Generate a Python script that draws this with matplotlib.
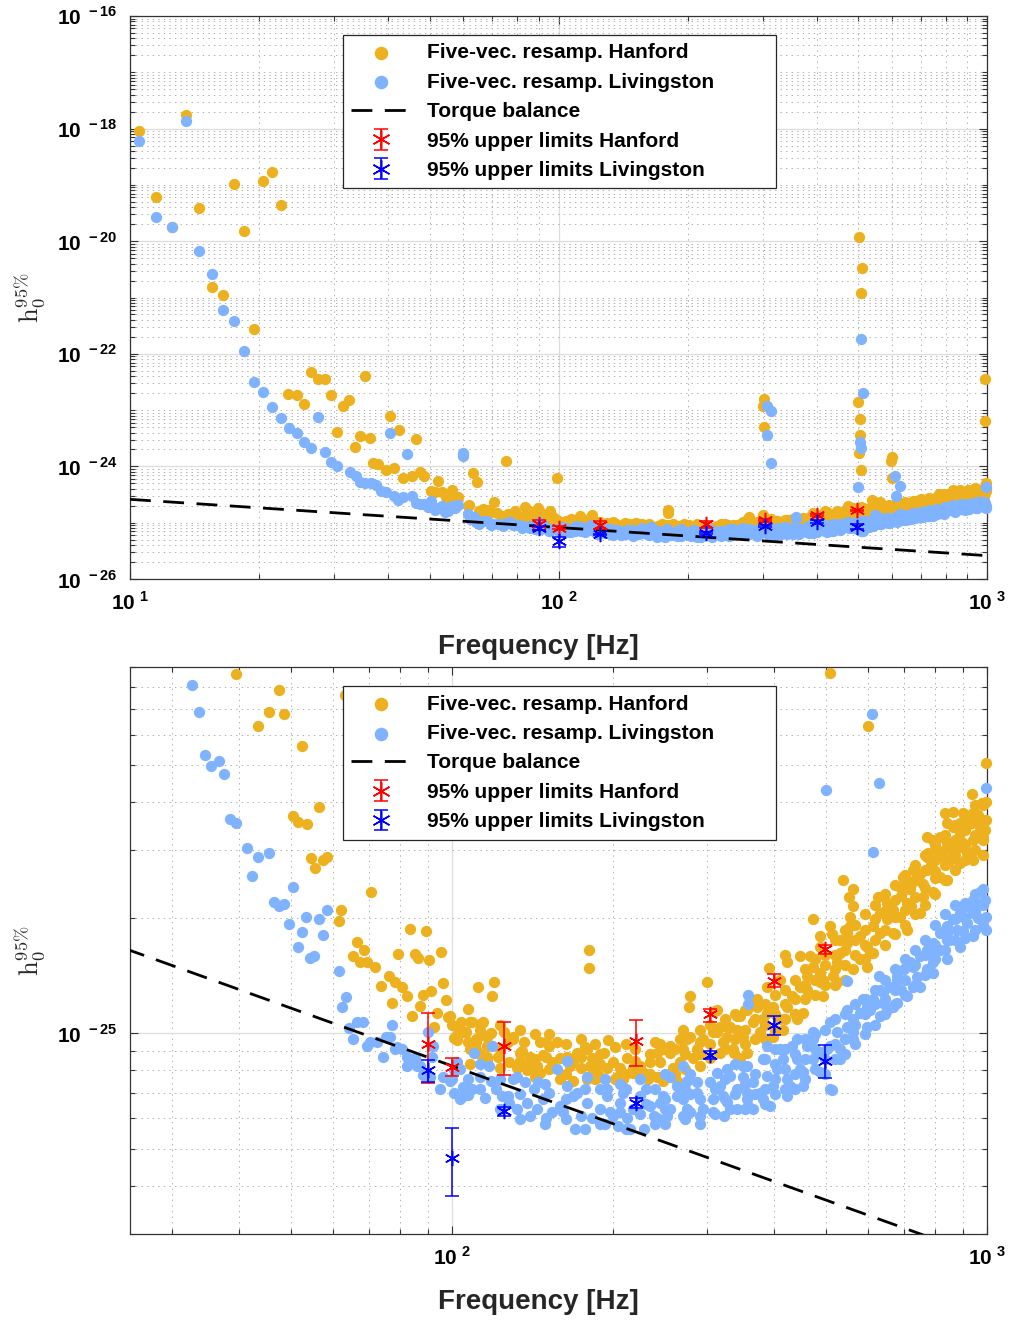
import numpy as np
import matplotlib
matplotlib.use('Agg')
import matplotlib.pyplot as plt
from matplotlib.ticker import FixedLocator, LogLocator, NullFormatter, FuncFormatter

# points: (frequency in Hz, h0 in units of 1e-26)
hanford_band = [
    (39.5, 86.1), (47.5, 78.3), (45.5, 68.6), (48.5, 67.8), (43.3, 63.1), (52.4, 55.9), (56.5, 38.8),
    (50.5, 36.9), (51.6, 35.6), (53.6, 35.1), (54.5, 28.6), (57.4, 28.3), (58.4, 28.8), (55.5, 26.9),
    (61.9, 20.9), (61.4, 19.6), (70.6, 23.3), (83.5, 18.7), (89.4, 18.5), (66.5, 17.3), (68.5, 16.5),
    (65.4, 15.9), (67.3, 15.3), (69.4, 15.3), (71.8, 14.9), (79.2, 16.1), (85.3, 16.1), (86.4, 15.7),
    (95.4, 16.3), (90.6, 15.5), (76.3, 14.1), (78.2, 13.6), (80.6, 13.2), (82.4, 12.5), (73.7, 13.3),
    (77.2, 12.0), (88.2, 12.6), (91.4, 12.9), (96.2, 13.5), (97.4, 12.2), (87.1, 11.8), (84.2, 11.1),
    (92.5, 10.4), (93.7, 11.3), (98.3, 11.0), (100, 10.5), (104, 10.7), (107, 11.6), (112, 13.2),
    (120, 13.6), (119, 12.5), (108, 10.7), (113, 10.6), (103, 10.1), (105, 10.1), (102, 9.6), (107, 9.5),
    (111, 9.5), (114, 9.9), (118, 10.0), (111, 9.1), (116, 9.25), (116, 8.5), (122, 8.7), (125, 10.1),
    (130, 9.8), (127, 9.5), (123, 8.1), (128, 8.4), (136, 9.5), (135, 9.0), (140, 8.7), (132, 8.1),
    (138, 8.2), (146, 9.5), (150, 9.5), (157, 9.5), (148, 8.8), (144, 8.2), (154, 8.4), (146, 7.9),
    (159, 7.6), (164, 8.7), (168, 8.4), (174, 8.1), (179, 9.1), (183, 8.6), (168, 7.5), (179, 7.6),
    (183, 8.1), (196, 9.6), (192, 8.9), (200, 8.4), (189, 7.7), (206, 8.1), (212, 8.6), (209, 7.6),
    (218, 7.9), (225, 8.2), (240, 9.5), (232, 7.6), (245, 8.4), (256, 8.9), (259, 8.1), (267, 8.4),
    (275, 9.65), (270, 9.1), (248, 7.5), (263, 7.5),
    (180, 16.5), (180, 14.8), (300, 13.6), (279, 12.5), (277, 11.7), (310, 11.4), (345, 11.1), (99, 11.1),
    (109, 10.7), (114, 10.7), (102, 9.9), (106, 10.1), (111, 9.65), (116, 9.8), (119, 9.25), (116, 8.7),
    (130, 9.65), (134, 8.9), (132, 8.2), (138, 8.0), (144, 7.9), (152, 9.25), (150, 8.7), (159, 8.6),
    (171, 8.9), (177, 9.2), (166, 8.2), (181, 8.2), (187, 7.9), (181, 7.7), (195, 8.1), (203, 7.7),
    (218, 8.1), (228, 7.9), (234, 8.4), (242, 8.9), (248, 9.1), (256, 9.25), (267, 9.65), (270, 10.2),
    (279, 9.8), (287, 9.1), (242, 7.7), (282, 8.6), (294, 9.65), (313, 10.1), (327, 9.8), (341, 10.2),
    (350, 9.8), (335, 9.1), (317, 8.9), (304, 8.6), (291, 8.2), (321, 9.5), (331, 10.4), (356, 8.9),
    (317, 10.4), (337, 8.9), (345, 8.6), (345, 10.1), (365, 10.7), (376, 10.1), (388, 11.3), (398, 11.7),
    (372, 11.7), (381, 10.9), (410, 10.9), (423, 11.7), (432, 12.5), (447, 13.2), (461, 13.0), (453, 11.3),
    (441, 10.9), (416, 10.2), (398, 9.8), (461, 14.1), (473, 14.9), (487, 14.4), (467, 15.9), (487, 16.8),
    (473, 19.8), (509, 19.0), (487, 17.9), (493, 13.8), (493, 12.5), (515, 14.1), (524, 15.3), (531, 16.2),
    (547, 17.2), (538, 25.1), (562, 23.7), (551, 22.7), (562, 21.4), (554, 20.1), (554, 19.0), (547, 18.3),
    (579, 17.9), (597, 16.8), (579, 15.6), (562, 14.7), (524, 13.6), (597, 14.9), (612, 16.2), (612, 19.0),
    (631, 18.3), (649, 19.8), (666, 21.0), (631, 20.6), (649, 21.9), (688, 20.1), (709, 21.9), (688, 24.1),
    (718, 23.7), (740, 25.1), (759, 22.7), (772, 26.7), (727, 26.7), (697, 25.6), (772, 28.8), (806, 30.1),
    (792, 31.9), (842, 31.4), (864, 34.5), (890, 33.3), (941, 31.9), (917, 29.5), (853, 28.3), (817, 25.6),
    (750, 20.6), (709, 18.6), (666, 18.3), (604, 16.2), (792, 23.3), (842, 25.1), (890, 27.8), (941, 28.3),
    (983, 31.9), (970, 34.5), (772, 32.5), (419, 16.0), (392, 14.8), (703, 25.4), (834, 37.5), (864, 37.7),
    (902, 37.5), (937, 42.0), (941, 37.5), (979, 39.8), (996, 40.0), (996, 36.0), (983, 32.5), (991, 33.9),
    (937, 35.3), (890, 35.3), (842, 35.3), (776, 29.5), (817, 32.5), (853, 30.1), (902, 31.4), (996, 50.6),
    (513, 18.1), (531, 17.5), (487, 13.6), (447, 15.9), (423, 15.3), (410, 13.8), (388, 13.2), (372, 12.3),
    (356, 11.5), (341, 11.1), (327, 10.4), (307, 10.1), (291, 9.5), (313, 11.5), (101, 9.7),
    # filling of the dense part of the band
    (189, 8.82), (189, 8.31), (211, 9.36), (211, 7.82), (234, 8.82), (234, 7.82), (261, 9.09), (261, 7.82),
    (291, 10.2), (291, 8.82), (304, 9.36), (304, 10.5), (324, 9.09), (324, 10.9), (338, 9.65), (338, 11.2),
    (353, 10.2), (353, 9.36), (353, 11.5), (368, 10.9), (368, 9.65), (385, 11.9), (385, 10.5), (385, 9.65),
    (401, 12.6), (401, 11.2), (401, 10.2), (419, 13.0), (419, 11.9), (419, 10.9), (438, 13.8), (438, 12.3),
    (438, 11.2), (457, 14.7), (457, 13.4), (457, 12.3), (477, 15.6), (477, 13.8), (477, 12.6), (498, 16.0),
    (498, 15.1), (498, 13.4), (520, 17.5), (520, 16.0), (520, 14.7), (520, 13.4), (543, 18.6), (543, 16.5),
    (543, 15.1), (543, 13.8), (567, 19.2), (567, 17.5), (567, 16.0), (592, 20.4), (592, 18.6), (592, 17.0),
    (592, 15.6), (618, 21.6), (618, 19.8), (618, 17.5), (645, 23.0), (645, 20.8), (645, 18.6), (645, 17.0),
    (673, 24.4), (673, 22.3), (673, 20.1), (673, 18.1), (703, 25.9), (703, 23.7), (703, 21.0), (703, 19.2),
    (734, 27.5), (734, 25.1), (734, 22.6), (734, 20.4), (766, 29.2), (766, 26.7), (766, 23.9), (766, 21.6),
    (799, 31.0), (799, 28.3), (799, 25.4), (799, 23.0), (835, 32.9), (835, 30.1), (835, 27.5), (835, 25.1),
    (871, 34.9), (871, 31.9), (871, 29.2), (871, 26.7), (910, 37.1), (910, 33.9), (910, 31.0), (910, 28.3),
    (950, 39.3), (950, 36.0), (950, 32.9), (950, 30.1), (983, 39.3), (983, 36.0), (983, 29.2),
    (108, 9.09), (108, 8.31), (113, 8.82), (113, 10.2), (123, 10.5), (123, 9.09), (134, 10.2), (134, 8.46),
    (143, 9.94), (143, 8.56), (143, 7.69), (152, 9.94), (152, 8.06), (163, 9.36), (163, 7.82), (174, 9.65),
    (174, 8.66), (185, 9.36), (185, 7.6), (202, 9.2), (202, 7.6), (220, 9.09), (220, 8.46), (245, 9.36),
    (245, 7.69), (273, 8.82), (273, 8.06),
    (625, 22.6), (655, 21.5), (690, 22.8), (720, 24.5), (750, 26.0), (785, 27.5), (820, 29.0), (855, 31.0),
    (890, 30.5), (925, 35.0), (960, 37.0), (720, 21.5), (760, 24.5), (800, 26.5), (845, 28.0), (885, 32.0),
]

# points above the zoomed window (frequency in Hz, h0)
hanford_outliers = [
    (10.5, 9.1e-19), (13.5, 1.74e-18), (11.5, 6.1e-20), (12.5, 1.8e-20), (14.5, 3.9e-20), (17.5, 1.04e-19),
    (20.4, 1.17e-19), (21.4, 1.69e-19), (22.5, 4.4e-20), (18.5, 1.52e-20), (15.5, 1.54e-21), (16.5, 1.1e-21),
    (19.5, 2.75e-22), (23.4, 1.93e-23), (24.5, 1.85e-23), (25.5, 1.28e-23), (26.4, 4.75e-23), (27.5, 3.56e-23),
    (28.5, 3.56e-23), (29.4, 1.85e-23), (31.4, 1.18e-23), (32.4, 1.51e-23), (35.3, 4.0e-23), (30.4, 4.1e-24),
    (33.5, 2.2e-24), (34.4, 3.5e-24), (36.3, 3.2e-24), (40.4, 7.9e-24), (42.4, 4.4e-24), (46.5, 3.07e-24),
    (36.9, 1.15e-24), (37.9, 1.1e-24), (41.3, 9.4e-25), (59.8, 1.6e-24), (63.1, 7.6e-25), (64.6, 5.3e-25),
    (75.4, 1.25e-24), (99.2, 6.2e-25), (302, 1.57e-23), (300, 1.18e-23), (302, 5.0e-24), (502, 1.19e-20),
    (511, 3.3e-21), (509, 1.2e-21), (500, 1.39e-23), (505, 6.9e-24), (505, 3.6e-24), (503, 1.73e-24),
    (509, 8.7e-25), (600, 1.47e-24), (598, 1.25e-24), (600, 6.3e-25), (990, 3.6e-23), (988, 6.4e-24),
]

livingston_band = [
    (32.6, 80.9), (33.6, 68.6), (34.5, 53.0), (35.4, 49.7), (36.6, 51.2), (37.5, 47.4), (38.5, 36.2),
    (39.5, 35.3), (41.4, 30.4), (43.3, 28.8), (45.5, 29.5), (42.3, 25.7), (50.5, 24.0), (46.5, 22.0),
    (47.5, 21.4), (48.5, 21.7), (53.4, 20.1), (56.5, 19.8), (58.4, 20.9), (49.6, 19.3), (52.4, 18.4),
    (57.4, 18.0), (51.6, 16.8), (54.3, 15.7), (55.2, 15.9), (61.4, 14.5), (63.4, 12.4), (62.2, 11.7),
    (66.5, 10.7), (68.2, 10.7), (64.2, 10.3), (65.4, 9.65), (77.2, 10.5), (75.3, 9.8), (76.6, 9.8),
    (70.3, 9.5), (72.4, 9.5), (69.4, 9.25), (74.4, 8.7), (78.9, 9.2), (80.6, 9.1), (82.4, 8.7), (84.2, 8.5),
    (86.0, 8.2), (90.2, 10.1), (92.1, 9.25), (88.2, 7.8), (91.0, 7.7), (95.0, 7.15), (99.1, 7.5), (101, 7.0),
    (96.2, 7.7), (102, 8.4), (105, 7.25), (107, 6.9),
    (78.2, 9.1), (85.3, 8.6), (82.4, 8.2), (87.1, 8.2), (91.8, 8.7), (101, 8.0), (107, 7.6), (109, 7.15),
    (105, 6.86), (110, 8.9), (113, 7.7), (115, 6.8), (118, 7.5), (121, 7.15), (124, 6.86), (130, 7.6),
    (119, 9.25), (117, 8.2), (128, 6.6), (132, 6.35), (138, 6.6), (142, 7.15), (144, 6.35), (140, 6.1),
    (148, 6.74), (154, 6.24), (150, 6.0), (159, 6.47), (164, 8.46), (157, 8.06), (168, 6.86), (174, 6.1),
    (179, 6.6), (170, 5.63), (183, 6.0), (189, 6.35), (195, 6.86), (200, 6.1), (179, 7.7), (206, 6.6),
    (212, 6.0), (218, 6.35), (225, 6.86), (228, 5.63), (238, 6.1), (245, 6.6), (256, 6.35), (263, 6.86),
    (256, 7.7), (270, 8.2), (275, 7.5), (270, 6.1), (204, 5.73), (215, 5.63),
    (100, 7.6), (132, 7.7), (137, 7.46), (145, 7.46), (127, 6.86), (152, 7.0), (164, 7.28), (171, 7.0),
    (161, 6.24), (195, 7.15), (197, 6.24), (209, 7.0), (234, 6.47), (242, 6.0), (248, 6.86), (263, 7.28),
    (270, 6.74), (279, 6.24), (287, 7.0), (294, 6.35), (304, 7.46), (313, 7.9), (321, 6.86), (331, 6.35),
    (341, 7.15), (350, 7.7), (327, 8.06), (358, 6.47), (350, 8.2), (252, 6.1), (358, 12.6), (358, 11.9),
    (317, 7.28), (327, 6.62), (341, 6.35), (356, 7.0), (365, 7.46), (388, 7.73), (381, 6.74), (405, 8.06),
    (416, 8.56), (428, 7.28), (441, 8.56), (461, 9.25), (473, 9.65), (453, 7.92), (487, 8.93), (509, 9.25),
    (524, 10.1), (547, 10.4), (562, 10.9), (579, 11.3), (531, 9.1), (509, 7.15), (597, 11.7), (612, 12.3),
    (639, 12.8), (659, 13.2), (679, 14.1), (700, 14.7), (718, 15.3), (750, 15.9), (772, 16.5), (792, 17.2),
    (817, 18.3), (842, 19.0), (864, 19.8), (890, 20.6), (917, 21.4), (941, 22.3), (970, 23.3), (983, 19.8),
    (995, 18.6), (941, 17.9), (890, 16.8), (842, 15.6), (792, 14.4), (750, 13.2), (709, 12.5), (666, 11.7),
    (631, 11.1), (597, 10.4), (562, 9.65), (531, 8.56), (487, 7.92), (453, 7.28), (423, 6.86), (393, 6.47),
    (365, 6.35), (612, 29.7), (628, 14.1), (547, 13.7), (388, 9.25), (401, 9.1), (432, 9.25), (513, 7.1),
    (991, 22.3), (996, 20.1), (941, 20.6), (917, 19.4), (902, 21.4), (879, 18.6), (842, 17.5), (817, 16.5),
    (792, 15.3), (772, 14.7), (727, 13.2), (679, 12.0), (649, 11.5), (562, 10.1), (502, 9.1), (473, 8.56),
    (447, 8.06), (423, 7.6), (398, 7.28), (376, 7.0), (356, 6.74), (308, 6.24), (291, 6.1), (275, 6.35),
    (322, 6.1), (308, 6.74), (287, 7.46), (331, 7.73), (356, 8.2), (381, 8.56), (410, 9.1), (441, 9.65),
    (473, 10.1), (509, 10.7), (547, 11.5), (587, 12.3), (631, 13.0), (679, 13.8), (727, 14.9), (782, 16.5),
    (842, 18.3), (902, 20.1), (956, 21.9), (996, 43.6), (500, 43.0), (610, 67.8), (628, 45.0),
    # filling of the dense part of the band
    (189, 7.15), (189, 5.8), (206, 7.37), (206, 6.24), (225, 7.6), (225, 6.16), (240, 7.15), (240, 5.8),
    (250, 7.82), (250, 6.74), (279, 6.94), (279, 7.82), (291, 6.74), (291, 5.8), (310, 7.15), (310, 6.16),
    (324, 7.6), (324, 6.74), (338, 8.31), (338, 6.94), (353, 7.37), (353, 6.35), (368, 7.82), (368, 6.94),
    (385, 8.56), (385, 7.15), (385, 6.54), (401, 8.31), (401, 7.6), (401, 6.94), (419, 9.09), (419, 8.06),
    (419, 7.15), (438, 8.82), (438, 7.82), (438, 7.15), (457, 9.65), (457, 8.56), (457, 7.6), (477, 9.94),
    (477, 9.09), (477, 8.06), (498, 10.2), (498, 8.56), (498, 7.82), (520, 10.9), (520, 9.36), (520, 8.56),
    (543, 11.2), (543, 9.65), (543, 8.82), (567, 11.9), (567, 10.5), (567, 9.36), (592, 12.3), (592, 11.2),
    (592, 9.94), (618, 13.0), (618, 11.9), (618, 10.5), (645, 13.8), (645, 12.3), (645, 11.2), (673, 14.7),
    (673, 13.0), (673, 11.9), (703, 15.6), (703, 13.8), (703, 12.6), (734, 16.5), (734, 15.1), (734, 13.4),
    (766, 17.5), (766, 16.0), (766, 14.2), (799, 19.2), (799, 17.0), (799, 15.6), (835, 20.4), (835, 18.6),
    (835, 16.5), (871, 21.6), (871, 19.8), (871, 17.5), (910, 21.9), (910, 20.1), (910, 17.7), (950, 23.0),
    (950, 20.8), (950, 18.6), (983, 23.7), (983, 21.6), (983, 19.2),
    (103.5, 8.06), (103.5, 6.74), (113, 7.15), (113, 8.31), (123, 7.6), (123, 6.35), (134, 6.94), (134, 5.98),
    (149, 7.37), (149, 5.8), (163, 6.74), (163, 5.98), (177, 7.15), (177, 5.63), (193, 7.6), (193, 5.8),
    (211, 7.15), (211, 5.63), (230, 6.54), (230, 7.15), (250, 6.35), (250, 5.8), (273, 7.15), (273, 5.98),
    (605, 11.5), (640, 12.0), (690, 13.0), (740, 14.0), (790, 16.0), (850, 17.5), (900, 18.5), (960, 20.0),
]

livingston_outliers = [
    (10.5, 6.0e-19), (13.5, 1.36e-18), (11.5, 2.7e-20), (12.5, 1.8e-20), (14.5, 6.7e-21), (15.5, 2.6e-21),
    (16.5, 6.0e-22), (17.5, 3.8e-22), (18.5, 1.12e-22), (19.5, 3.2e-23), (20.4, 2.1e-23), (21.4, 1.14e-23),
    (22.5, 7.2e-24), (23.5, 4.8e-24), (24.5, 3.9e-24), (25.5, 2.7e-24), (26.4, 2.1e-24), (28.5, 1.8e-24),
    (29.4, 1.2e-24), (30.4, 1.0e-24), (27.5, 7.5e-24), (40.4, 3.9e-24), (44.3, 1.66e-24), (59.8, 1.7e-24),
    (59.8, 1.55e-24), (307, 1.18e-23), (313, 9.6e-24), (307, 3.6e-24), (313, 1.15e-24), (509, 1.83e-22),
    (514, 2.0e-23), (505, 2.7e-24), (509, 2.1e-24),
]

# torque balance line end points
torque_f = [10, 1000]
torque_h = [2.6e-25, 2.6e-26]

# 95% upper limits (units of 1e-26)
ul_f = [90.2, 100, 125, 221, 304, 400, 498]
ul_han = [9.4, 8.16, 9.25, 9.53, 11.2, 13.7, 16.6]
ul_han_hi = [11.3, 8.6, 10.7, 10.8, 11.6, 14.3, 17.0]
ul_han_lo = [7.41, 7.73, 7.8, 8.2, 10.7, 13.2, 16.1]
ul_liv = [8.0, 4.74, 6.27, 6.58, 8.8, 10.5, 8.46]
ul_liv_hi = [8.5, 5.66, 6.43, 6.78, 9.0, 11.07, 9.3]
ul_liv_lo = [7.46, 3.77, 6.09, 6.39, 8.56, 9.88, 7.64]

labels = ['Five-vec. resamp. Hanford', 'Five-vec. resamp. Livingston', 'Torque balance',
          '95% upper limits Hanford', '95% upper limits Livingston']

plt.rcParams['font.family'] = ['Liberation Sans', 'DejaVu Sans']
plt.rcParams['mathtext.fontset'] = 'custom'
plt.rcParams['mathtext.rm'] = 'Liberation Sans'
plt.rcParams['mathtext.bf'] = 'Liberation Sans:bold'
plt.rcParams['lines.scale_dashes'] = False

han_f = np.array([p[0] for p in hanford_band] + [p[0] for p in hanford_outliers])
han_h = np.array([p[1] * 1e-26 for p in hanford_band] + [p[1] for p in hanford_outliers])
liv_f = np.array([p[0] for p in livingston_band] + [p[0] for p in livingston_outliers])
liv_h = np.array([p[1] * 1e-26 for p in livingston_band] + [p[1] for p in livingston_outliers])

ul_f = np.array(ul_f)
uh = np.array(ul_han) * 1e-26
ul_err_h = [uh - np.array(ul_han_lo) * 1e-26, np.array(ul_han_hi) * 1e-26 - uh]
lv = np.array(ul_liv) * 1e-26
ul_err_l = [lv - np.array(ul_liv_lo) * 1e-26, np.array(ul_liv_hi) * 1e-26 - lv]

orange = '#EDB120'
lblue = '#80B3FF'
axcol = '#333333'
star = (6, 2, 0)


def pow_label(v, pos):
    e = int(round(np.log10(v)))
    return r'$\mathbf{10}^{\mathbf{\ %d}}$' % e


def panel(ax, xlim, ylim, yticks):
    inside = lambda f, h: (f >= xlim[0]) & (f <= xlim[1]) & (h >= ylim[0]) & (h <= ylim[1])
    m = inside(han_f, han_h)
    sc1 = ax.scatter(han_f[m], han_h[m], s=66, color=orange, linewidths=0, zorder=3, clip_on=False)
    m = inside(liv_f, liv_h)
    sc2 = ax.scatter(liv_f[m], liv_h[m], s=66, color=lblue, linewidths=0, zorder=3, clip_on=False)
    tb, = ax.plot(torque_f, torque_h, color='k', lw=2, dashes=(15, 9), zorder=4)
    eh = ax.errorbar(ul_f, uh, yerr=ul_err_h, ls='none', marker=star, ms=11, color='red',
                     mec='red', mew=1.1, elinewidth=1.1, capsize=5, capthick=1.1, zorder=5)
    el = ax.errorbar(ul_f, lv, yerr=ul_err_l, ls='none', marker=star, ms=11, color='blue',
                     mec='blue', mew=1.1, elinewidth=1.1, capsize=5, capthick=1.1, zorder=5)

    ax.set_xscale('log')
    ax.set_yscale('log')
    ax.set_xlim(xlim)
    ax.set_ylim(ylim)
    ax.xaxis.set_major_locator(FixedLocator([10, 100, 1000]))
    ax.xaxis.set_minor_locator(LogLocator(base=10, subs=np.arange(2, 10), numticks=1000))
    ax.yaxis.set_major_locator(FixedLocator(yticks))
    ax.yaxis.set_minor_locator(LogLocator(base=10, subs=np.arange(1, 10), numticks=1000))
    ax.xaxis.set_major_formatter(FuncFormatter(pow_label))
    ax.yaxis.set_major_formatter(FuncFormatter(pow_label))
    ax.xaxis.set_minor_formatter(NullFormatter())
    ax.yaxis.set_minor_formatter(NullFormatter())
    ax.tick_params(which='both', direction='in', top=True, right=True, color=axcol,
                   labelsize=15, width=0.8)
    ax.tick_params(which='major', length=6)
    ax.tick_params(which='minor', length=3.5)
    ax.tick_params(axis='y', pad=9)
    ax.tick_params(axis='x', pad=9)
    ax.grid(which='major', color='#dddddd', lw=0.9, ls='-', zorder=0)
    ax.grid(which='minor', color='#b0b0b0', lw=0.7, ls=(0, (1, 3)), zorder=0)
    ax.set_axisbelow(True)
    for s in ax.spines.values():
        s.set_color(axcol)
        s.set_linewidth(0.9)

    ax.set_xlabel('Frequency [Hz]', fontsize=20, fontweight='bold', color='#262626')
    ax.xaxis.set_label_coords(0.476, -0.097)
    ax.set_ylabel(r'$\mathrm{h}_0^{95\%}$', fontsize=19, math_fontfamily='cm', color='#262626')
    ax.yaxis.set_label_coords(-0.097, 0.5)

    leg = ax.legend([sc1, sc2, tb, eh, el], labels, loc='upper left',
                    bbox_to_anchor=(0.2485, 0.0, 0.5055, 0.966),
                    mode='expand', borderaxespad=0, prop={'weight': 'bold', 'size': 15},
                    frameon=True, fancybox=False, framealpha=1, edgecolor='#262626',
                    handlelength=2.85, handletextpad=0.8, labelspacing=0.5, borderpad=0.4,
                    scatterpoints=1, markerscale=1.2)
    leg.get_frame().set_linewidth(0.9)
    leg.set_zorder(10)
    return leg


fig = plt.figure(figsize=(10.14, 13.2), dpi=100)
ax1 = fig.add_axes([0.1282, 0.56136, 0.8452, 0.42652])
ax2 = fig.add_axes([0.1282, 0.06515, 0.8452, 0.42955])

panel(ax1, (10, 1000), (1e-26, 1e-16), [1e-26, 1e-24, 1e-22, 1e-20, 1e-18, 1e-16])
panel(ax2, (25, 1000), (3e-26, 9e-25), [1e-25])

fig.savefig('out.png', dpi=100)
